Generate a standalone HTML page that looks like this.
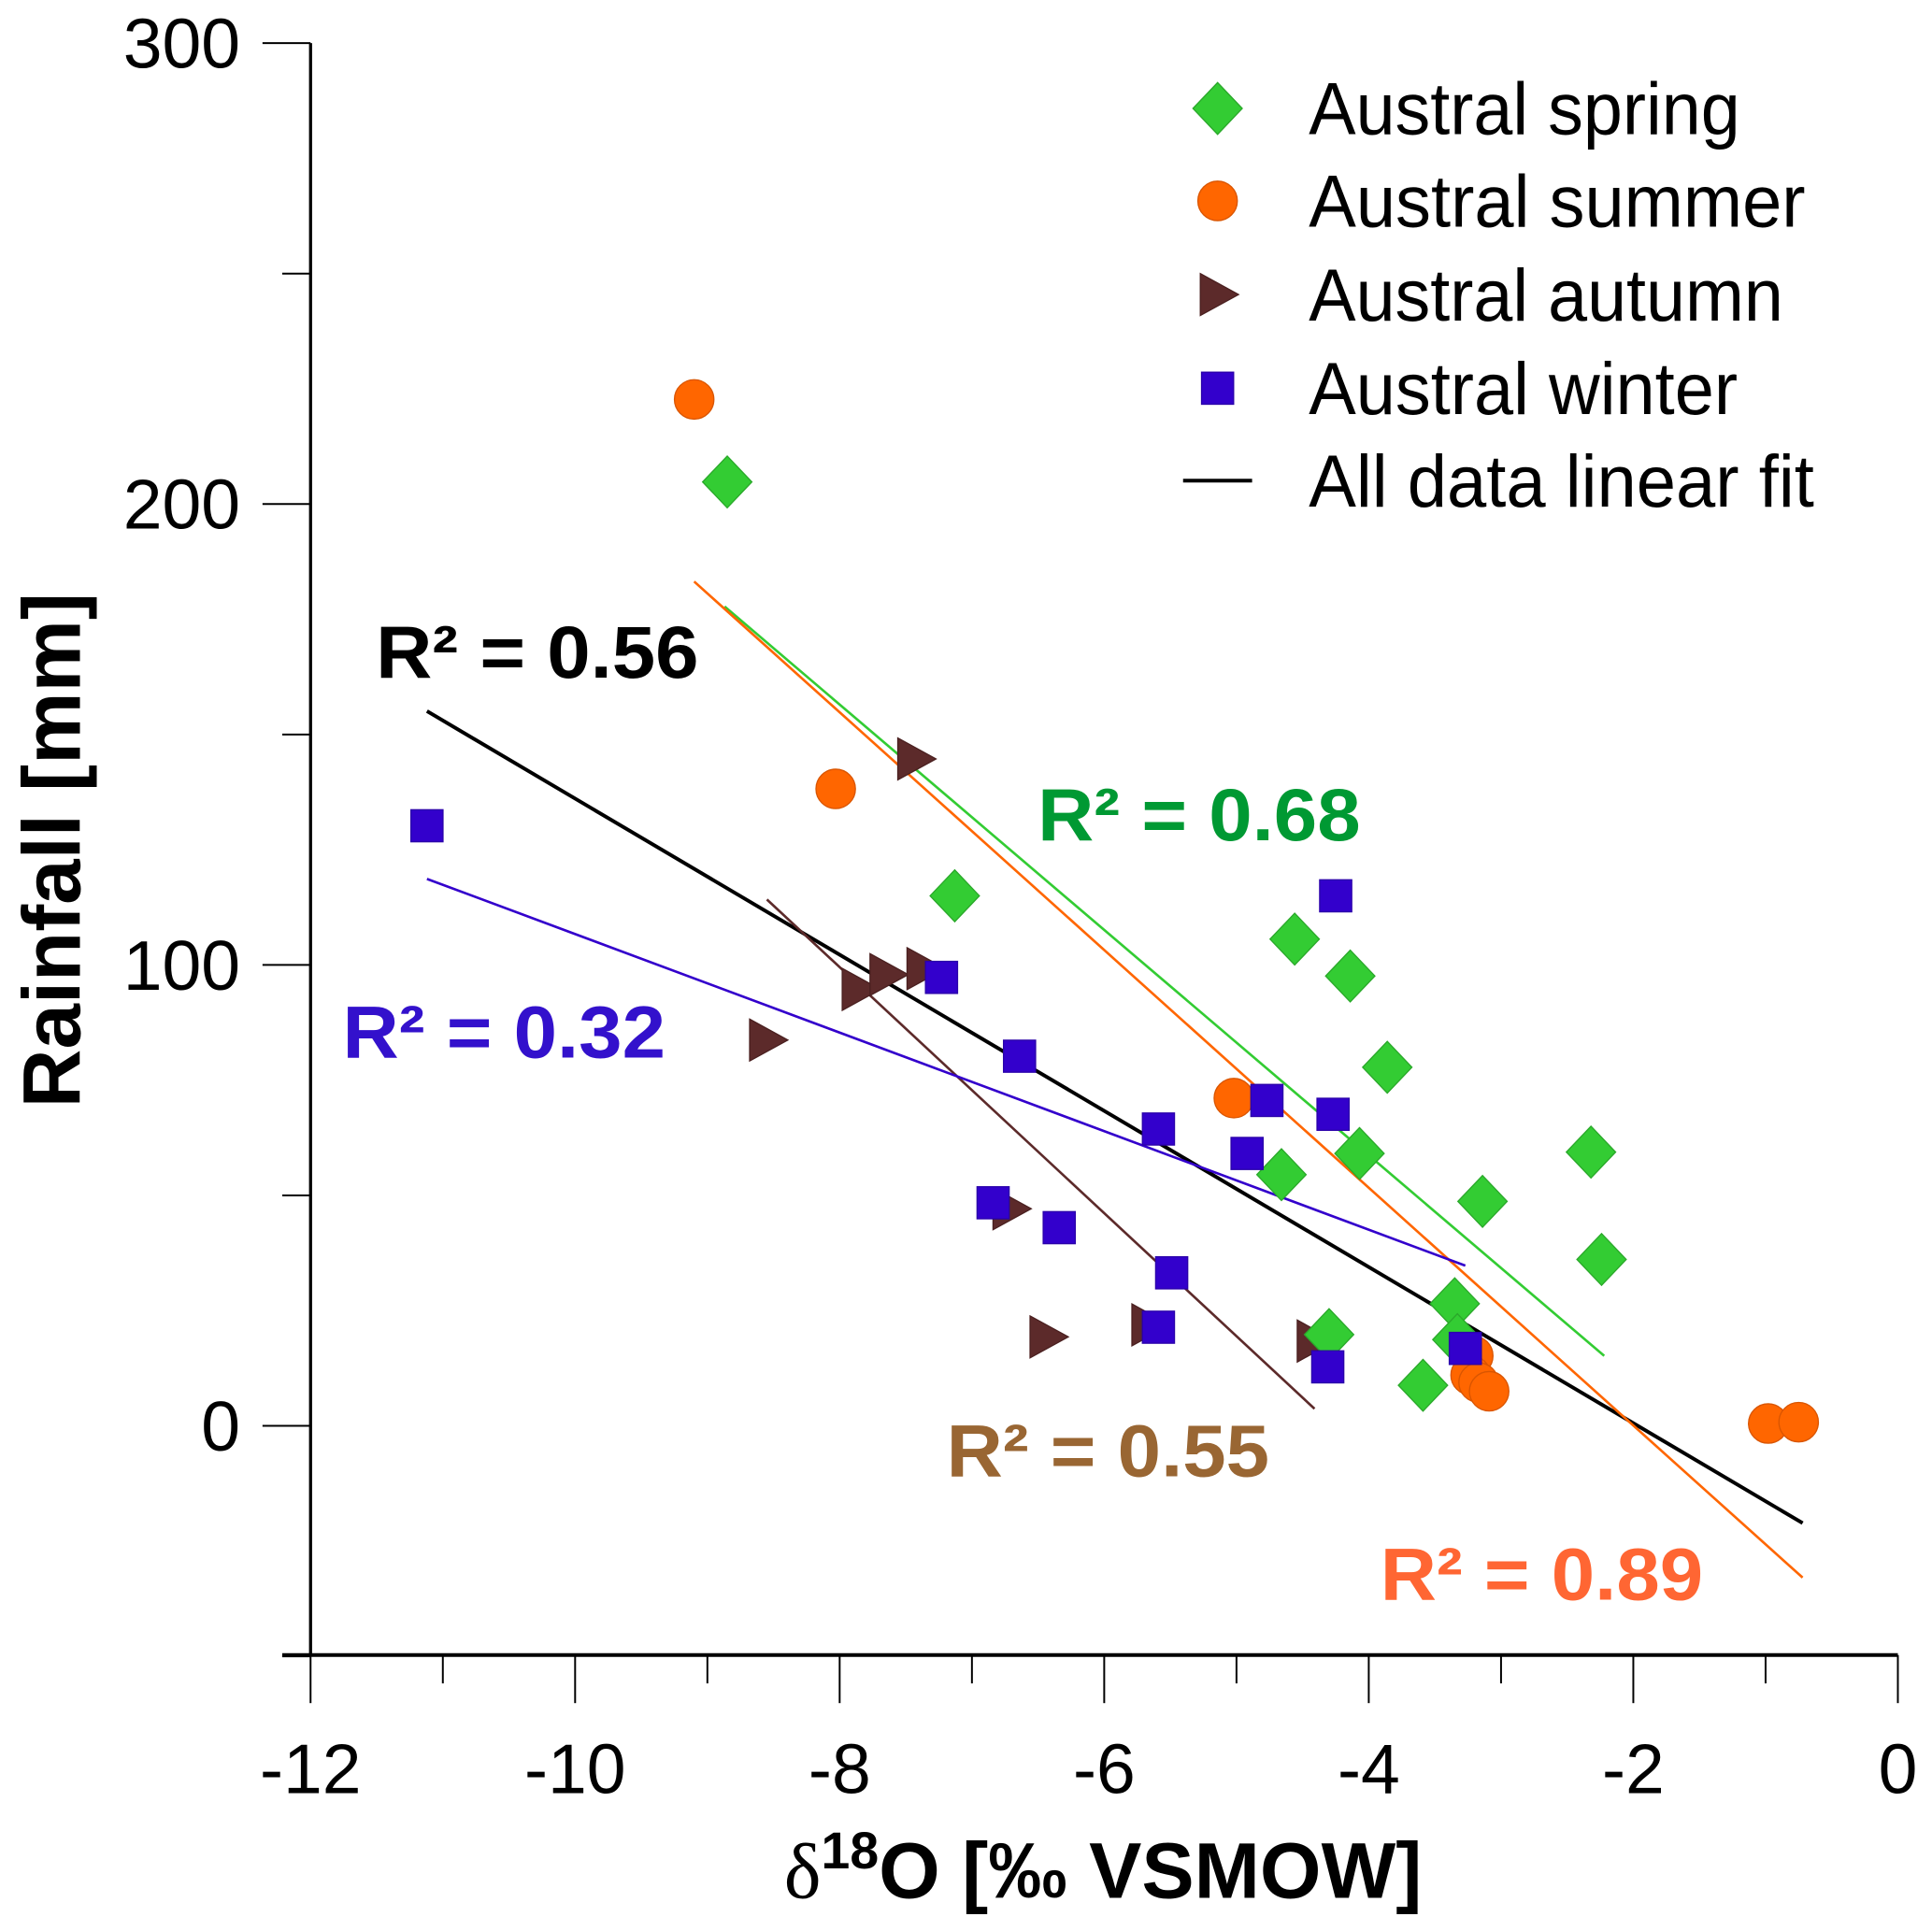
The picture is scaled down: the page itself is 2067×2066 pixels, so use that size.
<!DOCTYPE html>
<html><head><meta charset="utf-8"><style>
html,body{margin:0;padding:0;background:#fff;}
svg{display:block;font-family:"Liberation Sans",Arial,sans-serif;}
</style></head><body>
<svg id="chart" width="2067" height="2066" viewBox="0 0 1567.7 1566.9" xmlns="http://www.w3.org/2000/svg">
<g id="axes"></g>
<g id="fits"></g>
<g id="marks"></g>
<g id="labels">
<text transform="translate(65,690) rotate(-90)" text-anchor="middle" font-size="66" font-weight="bold">Rainfall [mm]</text>
<text x="895" y="1540" text-anchor="middle" font-size="64" font-weight="bold"><tspan font-weight="normal" font-family="Liberation Serif,serif">δ</tspan><tspan font-size="42" dy="-24">18</tspan><tspan dy="24">O [‰ VSMOW]</tspan></text>
<text x="305" y="550" font-size="60" font-weight="bold" fill="#000" textLength="262" lengthAdjust="spacingAndGlyphs">R² = 0.56</text>
<text x="842" y="682" font-size="60" font-weight="bold" fill="#009933" textLength="262" lengthAdjust="spacingAndGlyphs">R² = 0.68</text>
<text x="278" y="858" font-size="60" font-weight="bold" fill="#3311cc" textLength="262" lengthAdjust="spacingAndGlyphs">R² = 0.32</text>
<text x="768" y="1198" font-size="60" font-weight="bold" fill="#996633" textLength="262" lengthAdjust="spacingAndGlyphs">R² = 0.55</text>
<text x="1120" y="1298" font-size="60" font-weight="bold" fill="#ff6633" textLength="262" lengthAdjust="spacingAndGlyphs">R² = 0.89</text>
</g>
<g id="legend"></g>
</svg>
<script>
const xTicks = [-12,-10,-8,-6,-4,-2,0];
const yTicks = [0,100,200,300];
const springX = [-8.85,-7.13,-4.56,-4.14,-3.86,-4.07,-4.66,-2.32,-3.14,-2.24,-3.35,-3.33,-4.30,-3.59];
const springY = [204.8,115,105.6,97.6,77.8,59.1,54.5,59.4,48.7,36.1,26.5,18.7,19.8,8.8];
const summerX = [-9.10,-8.03,-5.02,-3.21,-3.23,-3.17,-3.09,-0.98,-0.75];
const summerY = [222.7,138.2,71.1,15.2,11.0,9.4,7.5,0.5,0.8];
const autumnX = [-7.43,-8.55,-7.85,-7.64,-7.36,-6.71,-6.43,-5.66,-4.41];
const autumnY = [144.7,83.7,94.7,97.9,99.2,47.1,19.3,21.9,18.4];
const winterX = [-11.12,-7.23,-6.64,-5.59,-4.77,-4.27,-4.25,-4.92,-6.84,-6.34,-5.49,-5.59,-4.31,-3.27];
const winterY = [130.2,97.3,80.2,64.4,70.6,67.6,115.0,59.1,48.4,43.0,33.2,21.4,12.8,16.8];
const fitNames = ['fit-all','fit-spring','fit-summer','fit-autumn','fit-winter'];
const fitSlope = [-16.94,-24.45,-25.79,-26.69,-10.69];
const fitIntercept = [-33.3,-39.1,-51.5,-114.0,-0.2];
const fitXStart = [-11.12,-8.87,-9.10,-8.55,-11.12];
const fitXEnd = [-0.72,-2.22,-0.72,-4.41,-3.27];
const fitColors = ['#000000','#33cc33','#ff6600','#5c2a2a','#3300cc'];

const NS='http://www.w3.org/2000/svg';
const X0=252, X1=1540, Y0=1157, YS=3.74;
function sx(v){return X0+(v+12)*(X1-X0)/12;}
function sy(v){return Y0-v*YS;}
function mk(tag,attrs,parent){const e=document.createElementNS(NS,tag);for(const k in attrs)e.setAttribute(k,attrs[k]);parent.appendChild(e);return e;}

const axes=document.getElementById('axes');
let l=mk('line',{x1:252,y1:35,x2:252,y2:1343,stroke:'#000','stroke-width':2.5},axes);


l=mk('line',{x1:229,y1:1343,x2:1540,y2:1343,stroke:'#000','stroke-width':3},axes);


for(let v=-12;v<=0;v+=1){
  const major=v%2===0;
  const t=mk('line',{x1:sx(v),y1:1343,x2:sx(v),y2:major?1382:1366,stroke:'#000','stroke-width':1.5},axes);
  
  
}
xTicks.forEach(v=>{
  const t=mk('text',{x:sx(v),y:1455,'text-anchor':'middle','font-size':57},axes);
  t.textContent=String(v);
  
  
});
for(let v=-50;v<=300;v+=50){
  const major=v%100===0;
  const t=mk('line',{x1:major?213:229,y1:sy(v),x2:252,y2:sy(v),stroke:'#000','stroke-width':1.5},axes);
  
  
}
yTicks.forEach(v=>{
  const t=mk('text',{x:195,y:sy(v)+20,'text-anchor':'end','font-size':57},axes);
  t.textContent=String(v);
  
  
});

const fits=document.getElementById('fits');
fitNames.forEach((n,i)=>{
  const a=fitXStart[i], b=fitXEnd[i];
  const ln=mk('line',{x1:sx(a),y1:sy(fitSlope[i]*a+fitIntercept[i]),x2:sx(b),y2:sy(fitSlope[i]*b+fitIntercept[i]),stroke:fitColors[i],'stroke-width':i===0?3:2},fits);
  
  
});

function diamond(cx,cy,p){return mk('polygon',{points:`${cx},${cy-21} ${cx+20},${cy} ${cx},${cy+21} ${cx-20},${cy}`,fill:'#33cc33',stroke:'#2aa82a','stroke-width':1},p);}
function circle(cx,cy,p){return mk('ellipse',{cx:cx,cy:cy,rx:16,ry:16,fill:'#ff6600',stroke:'#d95500','stroke-width':1},p);}
function tri(cx,cy,p){return mk('polygon',{points:`${cx-14},${cy-17} ${cx+17},${cy} ${cx-14},${cy+17}`,fill:'#5c2a2a',stroke:'#4a2020','stroke-width':1},p);}
function square(cx,cy,p){return mk('rect',{x:cx-13,y:cy-13,width:26,height:26,fill:'#3300cc',stroke:'#2a00aa','stroke-width':1},p);}

const marks=document.getElementById('marks');
autumnX.forEach((v,i)=>{const e=tri(sx(v),sy(autumnY[i]),marks);

});
springX.forEach((v,i)=>{const e=diamond(sx(v),sy(springY[i]),marks);

});
summerX.forEach((v,i)=>{const e=circle(sx(v),sy(summerY[i]),marks);

});
winterX.forEach((v,i)=>{const e=square(sx(v),sy(winterY[i]),marks);

});

const lg=document.getElementById('legend');
const legNames=['Austral spring','Austral summer','Austral autumn','Austral winter','All data linear fit'];
const legLens=[350,403,385,348,410];
const legY=[88,163,239,315,390];
const fns=[diamond,circle,tri,square,null];
legNames.forEach((n,i)=>{
  let m;
  if(fns[i]) m=fns[i](988,legY[i],lg);
  else m=mk('line',{x1:960,y1:legY[i],x2:1016,y2:legY[i],stroke:'#000','stroke-width':3},lg);
  
  
  const t=mk('text',{x:1062,y:legY[i]+21,'font-size':60,textLength:legLens[i],lengthAdjust:'spacingAndGlyphs'},lg);
  t.textContent=n;
  
  
});
</script>
</body></html>
